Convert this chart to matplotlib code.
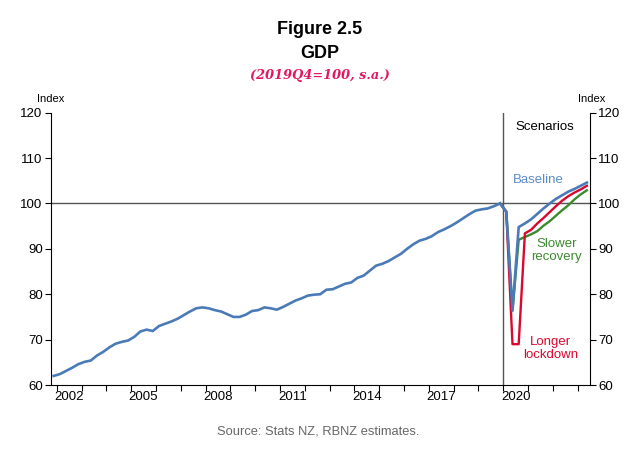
import numpy as np
import matplotlib
matplotlib.use('Agg')
import matplotlib.pyplot as plt

plt.rcParams['font.family'] = ['Liberation Sans', 'DejaVu Sans']

# GDP history, quarterly from 2001Q4 to 2019Q4 (index 2019Q4=100)
hist_start = 2001.75
gdp_hist = [62.0, 62.4, 63.1, 63.8, 64.6, 65.1, 65.4, 66.5, 67.3, 68.3,
            69.1, 69.5, 69.8, 70.6, 71.8, 72.2, 71.9, 73.0, 73.5, 74.0,
            74.6, 75.4, 76.2, 76.9, 77.1, 76.9, 76.5, 76.2, 75.6, 75.0,
            75.0, 75.5, 76.3, 76.5, 77.1, 76.9, 76.6, 77.2, 77.9, 78.6,
            79.1, 79.7, 79.9, 80.0, 81.0, 81.1, 81.7, 82.3, 82.6, 83.6,
            84.1, 85.2, 86.3, 86.7, 87.3, 88.1, 88.9, 90.0, 91.0, 91.8,
            92.2, 92.8, 93.7, 94.3, 95.0, 95.8, 96.7, 97.6, 98.4, 98.7,
            98.9, 99.4, 100.0]

# scenarios, 2020Q1 to 2023Q2
baseline = [98.2, 76.4, 94.8, 95.6, 96.5, 97.7, 98.9, 100.0, 101.0, 101.8,
            102.6, 103.2, 103.9, 104.6]
lockdown = [98.2, 69.0, 69.0, 93.4, 94.2, 95.6, 96.8, 98.1, 99.4, 100.6,
            101.6, 102.4, 103.1, 103.9]
slower = [98.2, 76.4, 92.0, 92.6, 93.2, 93.9, 95.1, 96.1, 97.3, 98.5,
          99.6, 100.9, 102.0, 102.9]

year_labels = [2002, 2005, 2008, 2011, 2014, 2017, 2020]
y_ticks = [60, 70, 80, 90, 100, 110, 120]

blue = '#4a7bb7'
red = '#d9082f'
green = '#3b8a2e'

x_hist = hist_start + 0.125 + 0.25 * np.arange(len(gdp_hist))
x_scen = x_hist[-1] + 0.25 * np.arange(len(baseline) + 1)

fig = plt.figure(figsize=(6.4, 4.66), dpi=100)
ax = fig.add_axes([51 / 640, 1 - 385 / 466, (590 - 51) / 640, (385 - 112.7) / 466])

ax.axhline(100, color='#555555', lw=1, zorder=1)
ax.axvline(2020, color='#555555', lw=1, zorder=1)

ax.plot(x_scen, [gdp_hist[-1]] + slower, color=green, lw=1.7, zorder=2)
ax.plot(x_scen, [gdp_hist[-1]] + lockdown, color=red, lw=1.7, zorder=3)
ax.plot(x_scen, [gdp_hist[-1]] + baseline, color=blue, lw=1.9, zorder=4)
ax.plot(x_hist, gdp_hist, color=blue, lw=1.9, zorder=4)

ax.set_xlim(2001.77, 2023.5)
ax.set_ylim(60, 120)

ax.set_xticks(np.arange(2002, 2024))
ax.set_xticklabels([])
ax.set_xticks([y + 0.5 for y in year_labels], minor=True)
ax.set_xticklabels([str(y) for y in year_labels], minor=True, fontsize=9.5)
ax.tick_params(axis='x', which='major', direction='out', length=4, width=0.8)
ax.tick_params(axis='x', which='minor', length=0, pad=4)

ax.set_yticks(y_ticks)
ax.set_yticklabels([str(v) for v in y_ticks], fontsize=9.5)
ax.tick_params(axis='y', left=True, right=True, labelleft=True, labelright=True,
               direction='out', length=4, width=0.8, pad=2)

ax.spines['top'].set_visible(False)
for s in ['left', 'right', 'bottom']:
    ax.spines[s].set_linewidth(0.8)
    ax.spines[s].set_color('black')

ax.text(2021.68, 116.8, 'Scenarios', ha='center', va='center', fontsize=9.5)
ax.text(2021.40, 105.2, 'Baseline', ha='center', va='center', fontsize=9.5, color='#5a8ccb')
ax.text(2022.14, 89.6, 'Slower\nrecovery', ha='center', va='center', fontsize=9.5,
        color=green, linespacing=1.15)
ax.text(2021.90, 68.0, 'Longer\nlockdown', ha='center', va='center', fontsize=9.5,
        color=red, linespacing=1.15)

fig.text(51 / 640, 1 - 99 / 466, 'Index', ha='center', va='center', fontsize=8)
fig.text(592 / 640, 1 - 99 / 466, 'Index', ha='center', va='center', fontsize=8)

fig.text(0.5, 1 - 30 / 466, 'Figure 2.5', ha='center', va='center', fontsize=13,
         fontweight='bold')
fig.text(0.5, 1 - 53 / 466, 'GDP', ha='center', va='center', fontsize=13,
         fontweight='bold')
fig.text(0.5, 1 - 76 / 466, '(2019Q4=100, s.a.)', ha='center', va='center',
         fontsize=9.3, fontweight='bold', style='italic', family='DejaVu Serif',
         color='#e3165f')

fig.text(318 / 640, 1 - 431 / 466, 'Source: Stats NZ, RBNZ estimates.', ha='center',
         va='center', fontsize=9.3, color='#666666')

fig.savefig('out.png', dpi=100, facecolor='white')
